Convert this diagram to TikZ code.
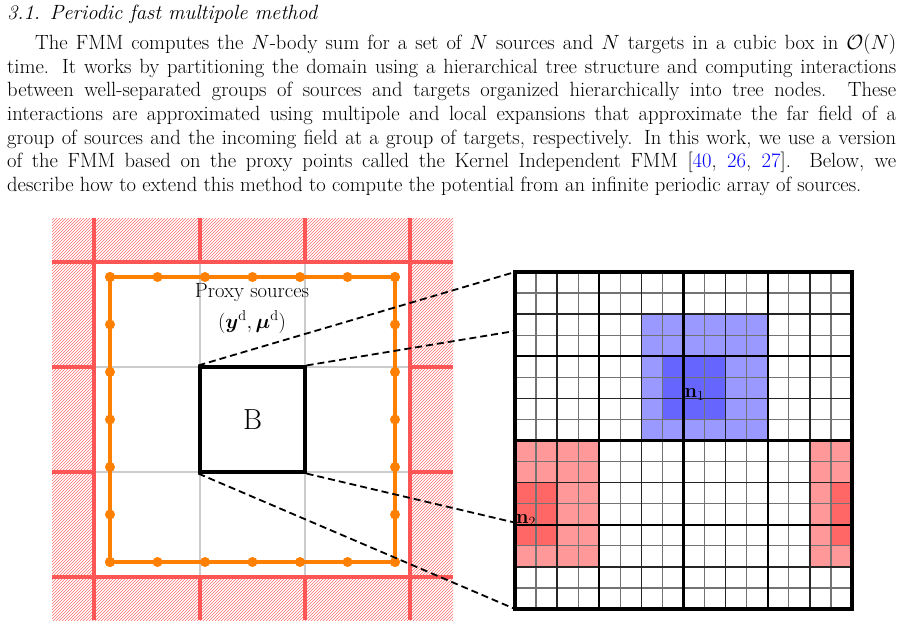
\RequirePackage{fix-cm}
\documentclass[tikz,border=0pt]{standalone}
\usepackage{bm}
\usetikzlibrary{patterns}
\definecolor{fred}{HTML}{FF5555}
\definecolor{forange}{HTML}{FF8000}
\definecolor{lblue}{HTML}{9999FF}
\definecolor{dblue}{HTML}{6666FF}
\definecolor{lred}{HTML}{FF9999}
\definecolor{dred}{HTML}{FF6666}
\tikzset{
  redline/.style={fred, line width=3.8pt},
  grayline/.style={black!20, line width=2.8pt},
  proxy/.style={forange, line width=3.6pt},
  pdot/.style={circle, fill=forange, inner sep=0pt, minimum size=10pt},
  zoomline/.style={black, line width=1.8pt, dash pattern=on 7pt off 4pt},
  body/.style={font=\fontsize{20.6}{22}\selectfont},
  para/.style={font=\fontsize{20.6}{23.7}\selectfont}
}
\begin{document}
\begin{tikzpicture}[x=1pt,y=-1pt]
\useasboundingbox (0,0) rectangle (904,626);
\node[anchor=north west, text width=889pt, align=justify, inner sep=0pt, para] (txt) at (7,5) {%
\textit{3.1. Periodic fast multipole method}\par\vspace{6pt}
\hspace*{28pt}The FMM computes the $N$-body sum for a set of $N$ sources and $N$ targets in a cubic box in $\mathcal{O}(N)$ \linebreak
time. It works by partitioning the domain using a hierarchical tree structure and computing interactions \linebreak
between well-separated groups of sources and targets organized hierarchically into tree nodes. These \linebreak
interactions are approximated using multipole and local expansions that approximate the far field of a \linebreak
group of sources and the incoming field at a group of targets, respectively. In this work, we use a version \linebreak
of the FMM based on the proxy points called the Kernel Independent FMM [\textcolor{blue}{40}, \textcolor{blue}{26}, \textcolor{blue}{27}]. Below, we \linebreak
describe how to extend this method to compute the potential from an infinite periodic array of sources.};

% left periodic domain
\fill[pattern=north east lines, pattern color=fred!85] (52,218) rectangle (453,620);
\foreach \v in {94,200,305,410} \draw[redline] (\v,218) -- (\v,620);
\foreach \v in {262,367,472,577} \draw[redline] (52,\v) -- (453,\v);
\fill[white] (94,262) rectangle (410,577);
\foreach \v in {200,305} \draw[grayline] (\v,262) -- (\v,577);
\foreach \v in {367,472} \draw[grayline] (94,\v) -- (410,\v);
\draw[redline] (94,262) rectangle (410,577);
% proxy sources
\draw[proxy] (110,277) rectangle (395,562);
\foreach \i in {0,...,6} {
  \node[pdot] (pt\i) at ({110+47.5*\i},277) {};
  \node[pdot] (pb\i) at ({110+47.5*\i},562) {};
  \node[pdot] (pl\i) at (110,{277+47.5*\i}) {};
  \node[pdot] (pr\i) at (395,{277+47.5*\i}) {};
}
\node[body, inner sep=0pt] (plabel) at (252,293) {Proxy sources};
\node[body, inner sep=0pt] (pmath) at (252,322) {$(\bm{y}^{\mathrm{d}},\bm{\mu}^{\mathrm{d}})$};
\node[draw=black, line width=3.2pt, minimum width=105pt, minimum height=105pt, inner sep=0pt, font=\fontsize{29}{32}\selectfont] (B) at (252.5,419.5) {B};

% right tree grid
\def\cs{21.0625}
\begin{scope}[shift={(515,272)}]
\fill[lblue] ({6*\cs},{2*\cs}) rectangle ({12*\cs},{8*\cs});
\fill[dblue] ({7*\cs},{4*\cs}) rectangle ({10*\cs},{7*\cs});
\fill[lred] (0,{8*\cs}) rectangle ({4*\cs},{14*\cs});
\fill[dred] (0,{10*\cs}) rectangle ({2*\cs},{13*\cs});
\fill[lred] ({14*\cs},{8*\cs}) rectangle ({16*\cs},{14*\cs});
\fill[dred] ({15*\cs},{10*\cs}) rectangle ({16*\cs},{13*\cs});
\foreach \i in {1,3,...,15} {
  \draw[black!55, line width=1.2pt] ({\i*\cs},0) -- ({\i*\cs},{16*\cs});
  \draw[black!55, line width=1.2pt] (0,{\i*\cs}) -- ({16*\cs},{\i*\cs});
}
\foreach \i in {2,6,10,14} {
  \draw[black!85, line width=1.6pt] ({\i*\cs},0) -- ({\i*\cs},{16*\cs});
  \draw[black!85, line width=1.6pt] (0,{\i*\cs}) -- ({16*\cs},{\i*\cs});
}
\foreach \i in {4,12} {
  \draw[black, line width=2.4pt] ({\i*\cs},0) -- ({\i*\cs},{16*\cs});
  \draw[black, line width=2.4pt] (0,{\i*\cs}) -- ({16*\cs},{\i*\cs});
}
\draw[black, line width=3.4pt] ({8*\cs},0) -- ({8*\cs},{16*\cs});
\draw[black, line width=3.4pt] (0,{8*\cs}) -- ({16*\cs},{8*\cs});
\draw[black, line width=4pt] (0,0) rectangle ({16*\cs},{16*\cs});
\node[font=\fontsize{20}{22}\selectfont, anchor=west, inner sep=1pt] (n1) at ({8*\cs},{5.8*\cs}) {$\mathbf{n}_1$};
\node[font=\fontsize{20}{22}\selectfont, anchor=west, inner sep=1pt] (n2) at (0,{11.8*\cs}) {$\mathbf{n}_2$};
\coordinate (g1) at (0,0);
\coordinate (g2) at (0,{2.8*\cs});
\coordinate (g3) at (0,{11.9*\cs});
\coordinate (g4) at (0,{16*\cs});
\end{scope}
\draw[zoomline] (B.north west) -- (g1);
\draw[zoomline] (B.north east) -- (g2);
\draw[zoomline] (B.south east) -- (g3);
\draw[zoomline] (B.south west) -- (g4);
\end{tikzpicture}
\end{document}
